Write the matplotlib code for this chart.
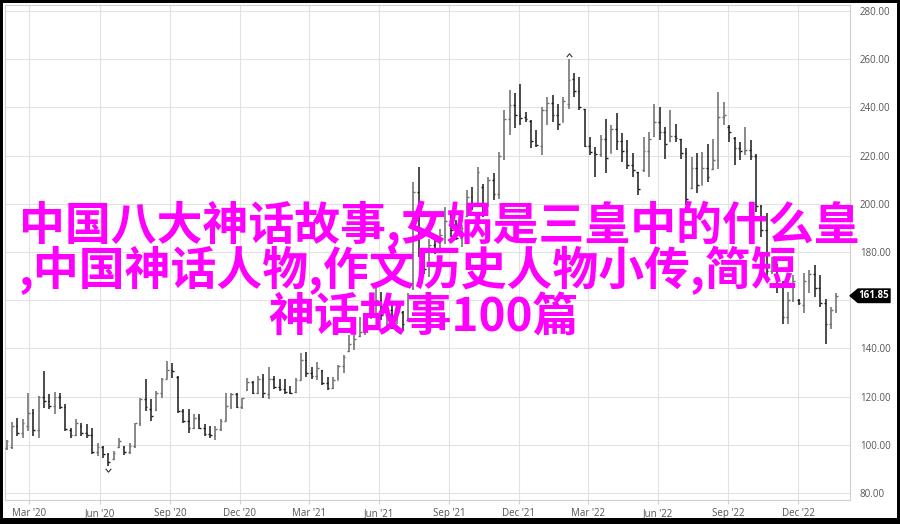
import numpy as np
import pandas as pd
import matplotlib
matplotlib.use('Agg')
import matplotlib.pyplot as plt
import matplotlib.dates as mdates
from matplotlib.patches import Polygon, Rectangle
from matplotlib.ticker import FuncFormatter

plt.rcParams['font.family'] = ['Open Sans', 'DejaVu Sans']

# weekly bars, first one on 2020-01-31
first_week = '2020-01-31'

opens = [98.5, 99, 108, 105, 108, 113, 106, 120, 118, 116,
         120, 115.5, 106, 104, 108, 105, 104, 97, 99, 96,
         94, 99, 99, 97, 99.5, 109, 119, 115, 114.5, 121.5,
         127.5, 131, 128, 114, 110, 107, 111, 107, 104.5, 104,
         106.5, 110, 116, 121, 115.5, 123, 126, 121.5, 127.5, 121,
         127.5, 124, 123, 122, 122, 127, 135, 130, 128.5, 131,
         125.5, 123.5, 127, 132.5, 139, 142, 145, 147, 153, 158,
         160, 154, 156, 152, 155, 151.7, 165, 205, 180, 173,
         183, 181, 187, 193, 189, 186, 195, 203, 199, 207,
         197, 210, 204, 219, 235, 241, 237, 236, 234.5, 226,
         224, 239, 242, 237, 234, 241.5, 252, 247, 239.5, 224,
         221.5, 220.5, 227, 221, 231, 226, 222, 216, 213, 214,
         222, 228, 234, 230, 226, 228, 227, 221, 206.5, 215,
         208, 215, 214.5, 218, 236, 232, 227.5, 223, 222, 222.5,
         220, 199, 189, 172, 175, 166, 153, 160, 160, 158,
         168, 171, 165, 159, 150, 156]

highs = [102.2, 109.4, 111.3, 110.6, 121.3, 114.7, 120.3, 130.7, 121.0, 122.0,
         121.7, 116.8, 107.0, 110.6, 108.9, 108.5, 107.0, 100.8, 99.4, 96.7,
         97.4, 102.9, 99.4, 100.8, 109.2, 119.6, 127.2, 118.9, 122.4, 127.9,
         134.9, 133.8, 128.6, 114.7, 114.7, 112.6, 112.6, 108.5, 107.8, 107.8,
         110.8, 121.7, 121.7, 121.7, 119.6, 127.9, 126.5, 128.6, 129.3, 132.1,
         128.6, 127.2, 127.2, 124.4, 127.9, 137.9, 138.6, 132.3, 134.4, 131.0,
         128.2, 128.2, 133.0, 137.2, 145.5, 145.5, 153.1, 151.7, 159.3, 166.2,
         163.5, 160.0, 158.6, 157.2, 155.5, 162.8, 209.1, 215.3, 181.0, 185.6,
         186.3, 189.7, 198.7, 196.0, 193.2, 191.1, 205.7, 207.0, 215.3, 208.4,
         211.2, 212.6, 221.6, 238.9, 247.2, 245.8, 249.9, 238.0, 234.7, 230.6,
         240.2, 244.4, 245.1, 241.6, 244.4, 260.3, 254.1, 252.7, 239.5, 227.8,
         223.6, 228.5, 235.0, 232.6, 237.5, 229.2, 226.4, 220.9, 213.3, 227.8,
         229.9, 241.6, 240.2, 231.9, 238.9, 233.3, 227.1, 223.0, 219.5, 220.9,
         221.6, 225.0, 227.1, 246.5, 242.3, 232.6, 227.8, 225.7, 231.9, 226.4,
         220.5, 199.4, 196.0, 178.0, 175.2, 168.0, 163.5, 170.4, 160.7, 171.1,
         172.5, 174.5, 170.4, 160.7, 157.2, 162.8]

lows = [97.8, 98.3, 103.6, 102.9, 105.7, 103.6, 102.9, 115.4, 114.7, 112.6,
        114.7, 105.7, 102.9, 103.6, 103.6, 102.9, 96.0, 95.3, 94.6, 91.1,
        93.9, 98.8, 95.6, 96.0, 98.8, 107.8, 114.0, 109.9, 114.0, 119.6,
        127.2, 127.9, 113.3, 109.2, 105.0, 106.4, 106.4, 103.6, 102.9, 102.2,
        105.7, 109.9, 114.7, 115.4, 114.7, 122.4, 121.0, 121.0, 119.6, 118.9,
        123.0, 122.4, 121.0, 121.0, 121.7, 126.8, 128.2, 127.5, 126.8, 124.7,
        122.6, 123.3, 126.8, 129.6, 138.6, 139.3, 144.8, 145.5, 152.4, 153.1,
        151.7, 149.0, 148.2, 150.3, 147.5, 151.7, 164.2, 178.0, 171.0, 169.7,
        179.0, 180.8, 183.5, 186.3, 184.9, 182.1, 194.6, 197.4, 198.7, 194.6,
        198.7, 201.5, 202.0, 218.1, 228.5, 231.3, 232.6, 234.0, 223.0, 223.6,
        220.2, 232.6, 234.0, 230.6, 234.0, 239.5, 244.4, 238.9, 223.6, 220.2,
        211.2, 219.5, 212.6, 220.9, 222.3, 217.4, 214.6, 211.2, 203.6, 213.3,
        211.2, 227.8, 226.4, 218.8, 225.7, 225.7, 218.8, 199.4, 206.3, 204.3,
        207.7, 209.1, 214.0, 214.6, 232.6, 225.7, 216.0, 218.1, 220.2, 218.1,
        196.6, 186.3, 167.6, 171.0, 162.8, 150.3, 150.3, 159.3, 157.9, 154.5,
        162.8, 161.4, 157.2, 142.0, 148.2, 154.5]

closes = [101.5, 108, 105, 109, 113, 106, 120, 118, 116, 120,
          115.5, 106.5, 104, 109, 105, 104, 97, 99, 96, 93,
          96.5, 101.5, 97, 99.5, 109, 119, 115.5, 112, 121.5, 127.5,
          131, 130.5, 114, 110, 107, 111, 107, 104.5, 104, 106.5,
          110, 116, 121, 115.5, 119.5, 126, 121.5, 127.5, 121.5, 127.5,
          124, 123, 122, 121.5, 127, 135, 130, 128.5, 132, 125.5,
          123.5, 127, 132.5, 136.5, 142, 144, 147, 150.5, 158, 160,
          154, 156, 152, 155, 150, 162, 205, 180, 173, 183,
          180.5, 187, 193, 189, 186, 190, 203, 199, 213, 196,
          210, 204, 220, 235, 241, 237, 235.5, 235, 226, 224.5,
          239, 242, 237, 233, 242.5, 251.5, 247, 240, 224, 221.5,
          220.5, 227, 219, 231, 226, 222, 216, 214, 206, 222,
          227, 234, 230, 225, 228, 227.5, 221, 202, 215, 208,
          215, 211, 218, 236, 237, 230, 223, 222, 222.5, 220,
          199, 189, 172, 176, 166, 153, 160, 168, 159, 168,
          171, 165, 159, 150, 156, 161.85]

price_ticks = [80, 100, 120, 140, 160, 180, 200, 220, 240, 260, 280]

title_lines = ['中国八大神话故事,女娲是三皇中的什么皇',
               ',中国神话人物,作文历史人物小传,简短',
               '神话故事100篇']

dates = pd.date_range(first_week, periods=len(closes), freq='7D')
x = mdates.date2num(dates)
last = closes[-1]

W, H = 900, 524
fig = plt.figure(figsize=(W / 100, H / 100), dpi=100)
ax = fig.add_axes([5 / W, 24 / H, 845 / W, 495 / H])

o = np.array(opens)
c = np.array(closes)
cols = np.where(c >= o, '#6a6a6a', '#1a1a1a')
ax.vlines(x, lows, highs, colors=cols, lw=1.1, zorder=3)
ax.hlines(opens, x - 2.2, x, colors=cols, lw=1.0, zorder=3)
ax.hlines(closes, x, x + 2.2, colors=cols, lw=1.0, zorder=3)

# high / low carets
i_hi = int(np.argmax(highs))
i_lo = int(np.argmin(lows))
ax.plot(x[i_hi], highs[i_hi] + 1.6, marker=[(-1, -0.6), (0, 0.6), (1, -0.6)],
        ms=4, mfc='none', mec='#333', mew=0.8, zorder=3)
ax.plot(x[i_lo], lows[i_lo] - 1.6, marker=[(-1, 0.6), (0, -0.6), (1, 0.6)],
        ms=4, mfc='none', mec='#333', mew=0.8, zorder=3)

ax.set_xlim(mdates.date2num(pd.Timestamp('2020-01-29')),
            mdates.date2num(pd.Timestamp('2023-02-07')))
ax.set_ylim(77.1, 282.5)

# the price tag sits over the tick label nearest the last close
ax.set_yticks(price_ticks)
ax.yaxis.tick_right()
ax.yaxis.set_major_formatter(
    FuncFormatter(lambda v, p: '' if abs(v - last) < 6 else f'{v:.2f}'))
ax.tick_params(axis='y', length=0, pad=7, labelsize=7, labelcolor='#555555')

ax.xaxis.set_major_locator(mdates.MonthLocator(bymonth=[3, 6, 9, 12]))
ax.xaxis.set_major_formatter(mdates.DateFormatter("%b '%y"))
ax.tick_params(axis='x', length=3, color='#d0d0d0', pad=3, labelsize=7,
               labelcolor='#555555')

ax.grid(True, color='#e2e2e2', lw=0.8)
ax.set_axisbelow(True)
for s in ax.spines.values():
    s.set_color('#d0d0d0')
    s.set_linewidth(0.8)

# last price tag
tr = ax.get_yaxis_transform()
hh = 2.8
tag = [(1.0, last), (1 + 8 / 845, last + hh), (1 + 40 / 845, last + hh),
       (1 + 40 / 845, last - hh), (1 + 8 / 845, last - hh)]
ax.add_patch(Polygon(tag, closed=True, transform=tr, fc='black', ec='black',
                     lw=1, joinstyle='round', clip_on=False, zorder=5))
ax.text(1 + 24 / 845, last, f'{last:.2f}', transform=tr, color='white',
        fontsize=7, fontweight='bold', ha='center', va='center',
        clip_on=False, zorder=6)

# overlay title
line_pos = [(19, 240), (19, 285), (268, 330.5)]
for txt, (px, py) in zip(title_lines, line_pos):
    fig.text(px / W, 1 - py / H, txt, color='#ff00ff', fontsize=33,
             fontweight='bold', ha='left', va='baseline',
             family=['Noto Sans CJK SC', 'DejaVu Sans'], zorder=10)

# black frame around the picture
fig.patches.append(Rectangle((0, 0), 1, 1, transform=fig.transFigure,
                             fill=False, ec='black', lw=4.3, zorder=20))
fig.patches.append(Rectangle((0, 0), 1, 6 / H, transform=fig.transFigure,
                             fc='black', ec='none', zorder=20))

fig.savefig('out.png', dpi=100)
